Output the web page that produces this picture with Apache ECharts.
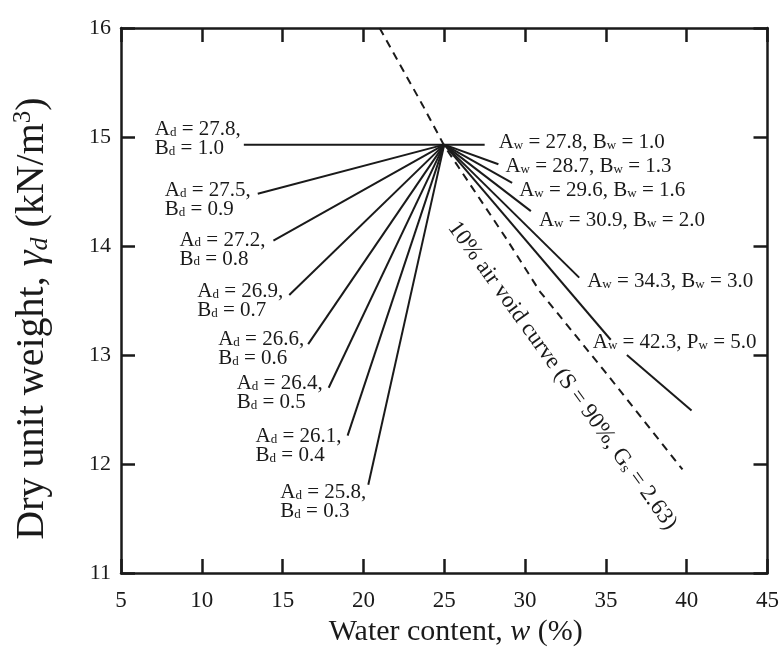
<!DOCTYPE html>
<html><head><meta charset="utf-8">
<script src="https://cdn.jsdelivr.net/npm/echarts@6/dist/echarts.min.js"></script>
<style>html,body{margin:0;padding:0;background:#fff}#c{width:782px;height:666px}</style>
</head><body><div id="c"></div>
<script>
// ---- data ----
const convergence = [25.0, 14.93];               // common point of all lines (w %, γd kN/m3)
// dry-side lines (label end point -> convergence)
const dryA   = [27.8, 27.5, 27.2, 26.9, 26.6, 26.4, 26.1, 25.8];
const dryB   = [1.0, 0.9, 0.8, 0.7, 0.6, 0.5, 0.4, 0.3];
const dryEndW  = [12.6, 13.46, 14.43, 15.41, 16.58, 17.85, 19.02, 20.30];
const dryEndGd = [14.93, 14.48, 14.05, 13.55, 13.10, 12.70, 12.26, 11.81];
// wet-side lines (convergence -> end point)
const wetA   = [27.8, 28.7, 29.6, 30.9, 34.3, 42.3];
const wetB   = [1.0, 1.3, 1.6, 2.0, 3.0, 5.0];
const wetBLetter = ['B', 'B', 'B', 'B', 'B', 'P'];
const wetEndW  = [27.5, 28.35, 29.2, 30.36, 33.35, 40.3];
const wetEndGd = [14.93, 14.75, 14.58, 14.32, 13.71, 12.49];
// the last wet line is interrupted by its label
const gapW  = [35.3, 36.3];
const gapGd = [13.14, 13.0];
// 10% air void curve (dashed)
const airVoidW  = [21.0, 23.67, 25.0, 28.83, 30.93, 34.93, 39.74];
const airVoidGd = [16.0, 15.29, 14.92, 14.07, 13.58, 12.85, 11.95];
const curveLabelAt = [32.3, 12.81];

// ---- styling / layout (pixel offsets of annotation texts) ----
const FONT = '"Liberation Serif", "Times New Roman", serif';
const INK = '#1a1a1a';
const TICK_LEN = 14;
const dryLabelDx = [-89, -93, -94, -92, -90, -92, -92, -88];
const dryLabelDy = [-5.5, 6, 9, 6, 5, 5.5, 10, 17];
const wetLabelDx = [14, 7, 7, 8, 8, -18];
const wetLabelDy = [-2, 2, 8, 9, 4, 3];

const chart = echarts.init(document.getElementById('c'), null, {renderer: 'canvas'});

function lineSeries(name, data, dashed) {
  return {
    type: 'line', name, silent: true, showSymbol: false, symbol: 'none', animation: false,
    lineStyle: {color: INK, width: 2, type: dashed ? [8, 6] : 'solid'}, data
  };
}
const series = [];
dryA.forEach((a, i) => series.push(lineSeries('Ad=' + a, [[dryEndW[i], dryEndGd[i]], convergence])));
wetA.forEach((a, i) => {
  if (i < wetA.length - 1) {
    series.push(lineSeries('Aw=' + a, [convergence, [wetEndW[i], wetEndGd[i]]]));
  } else {
    series.push(lineSeries('Aw=' + a, [convergence, [gapW[0], gapGd[0]]]));
    series.push(lineSeries('Aw=' + a + ' (cont.)', [[gapW[1], gapGd[1]], [wetEndW[i], wetEndGd[i]]]));
  }
});
series.push(lineSeries('10% air void curve', airVoidW.map((w, i) => [w, airVoidGd[i]]), true));

function mkAxisLine() { return {show: true, onZero: false, lineStyle: {color: INK, width: 2.5}}; }
function mkAxisTick() { return {show: true, inside: true, length: TICK_LEN, lineStyle: {color: INK, width: 2.5}}; }

const option = {
  backgroundColor: '#fff',
  animation: false,
  grid: {left: 121, right: 12, top: 28, bottom: 93},
  xAxis: [{
    type: 'value', min: 5, max: 45, interval: 5, position: 'bottom',
    axisLine: mkAxisLine(), axisTick: mkAxisTick(), splitLine: {show: false},
    axisLabel: {color: INK, fontFamily: FONT, fontSize: 23, margin: 16},
    name: '{t|Water content, }{i|w}{t| (%)}',
    nameLocation: 'middle', nameGap: 44,
    nameTextStyle: {color: INK, fontFamily: FONT, fontSize: 30, padding: [0, 0, 0, 23],
      rich: {
        t: {color: INK, fontFamily: FONT, fontSize: 30},
        i: {color: INK, fontFamily: FONT, fontSize: 30, fontStyle: 'italic'}
      }}
  }, {
    type: 'value', min: 5, max: 45, interval: 5, position: 'top',
    axisLine: mkAxisLine(), axisTick: mkAxisTick(), splitLine: {show: false}, axisLabel: {show: false}
  }],
  yAxis: [{
    type: 'value', min: 11, max: 16, interval: 1, position: 'left',
    axisLine: mkAxisLine(), axisTick: mkAxisTick(), splitLine: {show: false},
    axisLabel: {color: INK, fontFamily: FONT, fontSize: 22, margin: 10},
    name: '{t|Dry unit weight, }{i|γ}{s|d}{t| (kN/m}{p|3}{t|)}',
    nameLocation: 'middle', nameGap: 68,
    nameTextStyle: {color: INK, fontFamily: FONT, fontSize: 40, padding: [0, 36, 0, 0],
      rich: {
        t: {color: INK, fontFamily: FONT, fontSize: 40, lineHeight: 42},
        i: {color: INK, fontFamily: FONT, fontSize: 40, lineHeight: 42, fontStyle: 'italic'},
        s: {color: INK, fontFamily: FONT, fontSize: 26, lineHeight: 14, fontStyle: 'italic', verticalAlign: 'bottom'},
        p: {color: INK, fontFamily: FONT, fontSize: 25, lineHeight: 14, verticalAlign: 'top'}
      }}
  }, {
    type: 'value', min: 11, max: 16, interval: 1, position: 'right',
    axisLine: mkAxisLine(), axisTick: mkAxisTick(), splitLine: {show: false}, axisLabel: {show: false}
  }],
  series
};
chart.setOption(option);

// ---- annotations, anchored to the line end points through the chart's scales ----
const toPx = (v) => chart.convertToPixel({gridIndex: 0}, v);
const labelRich = {
  t: {color: INK, fontFamily: FONT, fontSize: 21, lineHeight: 19},
  s: {color: INK, fontFamily: FONT, fontSize: 13, lineHeight: 7, verticalAlign: 'bottom'}
};
const graphics = [];
dryA.forEach((a, i) => {
  const p = toPx([dryEndW[i], dryEndGd[i]]);
  graphics.push({
    type: 'text', silent: true, x: p[0] + dryLabelDx[i], y: p[1] + dryLabelDy[i],
    style: {
      text: '{t|A}{s|d}{t| = ' + a.toFixed(1) + ',}\n{t|B}{s|d}{t| = ' + dryB[i].toFixed(1) + '}',
      rich: labelRich, align: 'left', verticalAlign: 'middle', fill: INK
    }
  });
});
wetA.forEach((a, i) => {
  const anchor = (i === wetA.length - 1) ? [gapW[0], gapGd[0]] : [wetEndW[i], wetEndGd[i]];
  const p = toPx(anchor);
  graphics.push({
    type: 'text', silent: true, x: p[0] + wetLabelDx[i], y: p[1] + wetLabelDy[i],
    style: {
      text: '{t|A}{s|w}{t| = ' + a.toFixed(1) + ', ' + wetBLetter[i] + '}{s|w}{t| = ' + wetB[i].toFixed(1) + '}',
      rich: labelRich, align: 'left', verticalAlign: 'middle', fill: INK
    }
  });
});
const cp = toPx(curveLabelAt);
graphics.push({
  type: 'text', silent: true, x: cp[0], y: cp[1], rotation: -54.1 * Math.PI / 180,
  style: {
    text: '{t|10% air void curve (S = 90%, G}{s|s}{t| = 2.63)}',
    rich: {
      t: {color: INK, fontFamily: FONT, fontSize: 23, lineHeight: 23},
      s: {color: INK, fontFamily: FONT, fontSize: 15, lineHeight: 9, verticalAlign: 'bottom'}
    },
    align: 'center', verticalAlign: 'middle', fill: INK
  }
});
chart.setOption({graphic: graphics});
</script>
</body></html>
